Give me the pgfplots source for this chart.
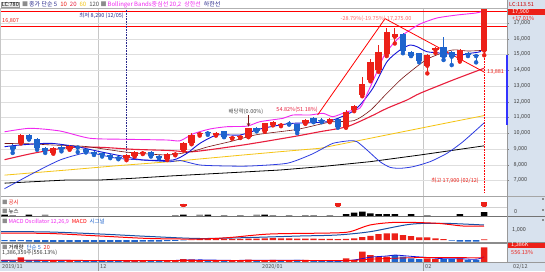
\documentclass[border=0pt]{standalone}
\usepackage{pgfplots}
\pgfplotsset{compat=1.18}
\usepackage{pgfplotstable}
\usepackage{fontspec}
\setmainfont{Noto Sans CJK KR}
\definecolor{cred}{RGB}{236,32,24}
\definecolor{cblue}{RGB}{30,100,205}
\definecolor{mag}{RGB}{240,40,240}
\definecolor{ma5}{RGB}{20,20,215}
\definecolor{ma10}{RGB}{120,20,20}
\definecolor{ma20}{RGB}{232,30,60}
\definecolor{ma60}{RGB}{245,196,20}
\definecolor{lowb}{RGB}{45,60,225}
\definecolor{panel}{RGB}{216,226,238}
\definecolor{navy}{RGB}{40,40,140}
\newcommand\f{\fontsize{5.5}{6}\selectfont}
\newcommand\ft{\fontsize{6}{7}\selectfont}

% up candles: x, low, wick height, body bottom, body height
\pgfplotstableread{
x l wh lo bh
1 9350 600 9400 490
5 8700 400 8770 270
7 8950 310 9020 190
14 8290 390 8410 210
15 8520 380 8560 270
16 8680 220 8720 110
19 8300 420 8350 330
20 8600 180 8650 70
21 8900 550 8940 460
22 9300 700 9360 530
23 9850 250 9940 60
25 9850 230 9890 140
27 9650 150 9690 60
28 9700 120 9740 60
29 9750 600 9780 530
31 10100 550 10140 490
32 10500 280 10540 190
33 10450 170 10500 80
36 10600 280 10630 210
39 10700 250 10730 150
41 10350 1100 10380 990
42 11400 400 11480 270
43 12350 1240 12430 700
44 13300 1400 13380 1160
45 13900 1700 14020 1160
46 14900 1760 15010 1440
47 15700 960 16130 150
51 13800 1200 14290 680
52 15100 400 15290 140
55 14550 800 14650 640
58 14950 2950 15250 2650
}\uptab
% down candles
\pgfplotstableread{
x l wh lo bh
0 8750 570 8980 230
2 9600 350 9630 260
3 8950 750 9040 590
4 8750 400 8890 150
6 8850 400 8980 170
8 8800 410 9090 60
9 8780 280 8830 170
10 8620 280 8680 150
11 8520 280 8620 100
12 8420 280 8510 110
13 8350 230 8410 100
17 8520 360 8560 270
18 8400 220 8450 110
24 9900 240 9990 60
26 9750 410 9780 360
30 10120 300 10160 190
34 10550 230 10580 90
35 10000 600 10160 410
37 10700 300 10730 220
38 10700 250 10760 80
40 10350 600 10420 460
48 15080 1270 15250 1050
49 14900 350 14930 250
50 14500 600 14590 480
53 14650 1480 14860 640
54 14330 920 14860 320
56 14900 250 14970 100
57 14500 550 14900 70
}\dntab

\pgfplotsset{mybase/.style={scale only axis, anchor=south west, width=507pt,
  xmin=-1.56, xmax=60.8, axis line style={draw=none},
  xtick={10.5,50.5}, xticklabels={}, major x tick style={draw=none},
  xmajorgrids, x grid style={black!22}, ytick=\empty, clip=true}}

\begin{document}
\begin{tikzpicture}
\begin{scope}[x=1pt,y=1pt]
\fill[white] (0,0) rectangle (545,271);
\fill[panel] (507,0) rectangle (545,271);
\fill[panel] (0,0) rectangle (545,9);
\end{scope}

% ---------- main price panel ----------
\begin{axis}[mybase, at={(0pt,75pt)}, height=188pt, ymin=6014.5, ymax=17952.5,
  ytick={7000,8000,9000,10000,11000,12000,13000,14000,15000,16000,17000},
  ytick pos=right, yticklabel pos=right,
  ymajorgrids, y grid style={black!13}, scaled y ticks=false,
  tick align=outside, major tick length=2pt, major y tick style={draw=black!50},
  yticklabel style={font=\f, text=black!75, xshift=1pt},
  /pgf/number format/assume math mode=true]
\addplot[red, line width=0.8pt] coordinates {(-1.56,17718) (60.8,17718)};
\addplot[red, line width=0.8pt] coordinates {(-1.56,16807) (60.8,16807)};
\addplot[navy, densely dotted, line width=0.6pt] coordinates {(14,17950) (14,8290)};
\addplot[red, densely dotted, line width=0.6pt] coordinates {(58,15000) (58,6205)};
% MA120
\addplot[black, line width=0.8pt] coordinates {(-1,6830) (6.68,7031) (10.74,7031) (14.80,7139) (19.35,7285) (32.88,7665) (37.80,7875) (43.95,8193) (50.10,8618) (57.97,9200)};
% MA60
\addplot[ma60, line width=0.8pt] coordinates {(-1,7340) (6.68,7665) (12.83,7938) (19.35,8193) (28.33,8618) (32.88,8828) (37.80,9044) (41.86,9462) (48.01,10098) (54.16,10733) (57.97,11120)};
% lower band
\addplot[lowb, line width=0.8pt, smooth, tension=0.4] coordinates {(-1,6480) (2.50,7456) (5.82,8301) (8.65,8726) (9.88,8726) (12.83,8409) (16.03,8301) (19.35,8193) (20.58,8269) (23.04,7983) (26.36,7919) (29.19,7919) (33.74,8091) (36.57,8618) (37.80,8936) (39.40,9361) (41.49,9526) (42.35,9462) (43.58,8936) (45.18,8193) (46.41,7837) (47.64,7773) (49.24,7875) (51.33,8193) (53.42,8726) (55.38,9462) (57.97,10650)};
% MA20 (center)
\addplot[ma20, line width=1.1pt, smooth, tension=0.4] coordinates {(-1,8320) (2.50,8726) (6.68,9082) (10.74,9107) (14.80,8980) (19.35,8904) (22.18,8828) (28.33,9253) (34.48,9780) (37.80,10098) (41.12,10415) (43.95,11050) (46.04,11584) (48.50,12111) (50.10,12536) (54.16,13381) (57.97,14124)};
% MA10
\addplot[ma10, line width=0.6pt, smooth, tension=0.4] coordinates {(-1,9350) (2,9330) (5,9250) (9,9158) (14,8799) (19,8621) (22,8839) (24,9135) (27,9500) (30,9907) (35,10244) (39,10705) (42,10807) (44,11458) (46,12521) (48,13525) (51,14707) (54,15280) (56,15220) (58,15270)};
% MA5
\addplot[ma5, line width=0.9pt, smooth, tension=0.4] coordinates {(-1,9145) (0.90,9253) (4.59,9361) (7.91,9145) (10.74,8828) (14.06,8490) (16.03,8301) (19.72,8301) (21.44,8726) (23.04,9361) (25.13,9888) (27.96,9888) (30.42,10269) (32.88,10523) (34.48,10631) (38.66,10733) (41.49,11285) (42.72,11793) (44.32,12873) (46.04,14543) (47.64,15286) (48.87,15603) (49.73,15495) (50.96,15178) (52.93,15076) (55.01,14968) (56.25,15076) (57.48,15178) (57.97,15495)};
% upper band
\addplot[mag, line width=0.9pt, smooth, tension=0.4] coordinates {(-1,10090) (2.13,10314) (5.82,10142) (9.51,9679) (14.06,9615) (18.98,9570) (20.58,9520) (22.18,9960) (24.27,10270) (26.36,10415) (28.82,10450) (30.42,10733) (33.25,10949) (34.48,11158) (36.57,11158) (38.17,11266) (39.40,11050) (41.12,11368) (42.72,11603) (43.70,12618) (44.69,13762) (45.67,14905) (46.66,15603) (47.64,16111) (48.87,16556) (50.10,16937) (52.19,17318) (54.65,17508) (56.99,17635) (57.97,17762)};
% trend line
\addplot[red, line width=0.8pt] coordinates {(37.5,11158) (45.8,17275) (58,13881)};
% candles
\addplot[cred, only marks, mark=none, error bars/.cd, y dir=plus, y explicit, error mark=none, error bar style={line width=0.7pt, cred}] table[x=x, y=l, y error=wh] {\uptab};
\addplot[cred, only marks, mark=none, error bars/.cd, y dir=plus, y explicit, error mark=none, error bar style={line width=6.3pt, cred}] table[x=x, y=lo, y error=bh] {\uptab};
\addplot[cblue, only marks, mark=none, error bars/.cd, y dir=plus, y explicit, error mark=none, error bar style={line width=0.7pt, cblue}] table[x=x, y=l, y error=wh] {\dntab};
\addplot[cblue, only marks, mark=none, error bars/.cd, y dir=plus, y explicit, error mark=none, error bar style={line width=6.3pt, cblue}] table[x=x, y=lo, y error=bh] {\dntab};
\draw[->, >=stealth, ma10, line width=0.6pt] (axis cs:29,11150) -- (axis cs:29,10420);
\end{axis}

% ---------- disclosure panel ----------
\begin{axis}[mybase, at={(0pt,64pt)}, height=11pt, ymin=0, ymax=11]
\addplot[cred, only marks, mark=none, error bars/.cd, y dir=plus, y explicit, error mark=none, error bar style={line width=6.5pt, cred}] table[x=x, y=lo, y error=bh] {
x lo bh
21 1.0 2.0
40 1.3 2.4
58 1.3 3.4
};
\end{axis}

% ---------- news panel ----------
\begin{axis}[mybase, at={(0pt,55pt)}, height=9pt, ymin=0, ymax=9]
\addplot[ybar, bar width=6.5pt, bar shift=0pt, fill=black!45, draw=none] coordinates {(0,1) (4,1.5) (20,1) (23,1.5) (26,1) (28,1) (30,1.5) (32,1) (34,1) (36,1) (37,1) (39,1) (51,1)};
\addplot[ybar, bar width=6.5pt, bar shift=0pt, fill=black, draw=none] coordinates {(-1,1.5) (2,1.5) (21,1.5) (24,1.5) (31,1.5) (41,2) (42,3.3) (43,4.3) (44,2.7) (45,2) (46,2) (47,2) (49,2) (55,2) (58,4)};
\end{axis}

% ---------- MACD panel ----------
\begin{axis}[mybase, at={(0pt,28pt)}, height=27pt, ymin=-300, ymax=2400]
\addplot[ybar, bar width=6.3pt, bar shift=0pt, fill=cred, draw=none] coordinates {(22,40) (23,80) (24,100) (25,120) (26,120) (27,110) (28,110) (29,140) (30,140) (31,170) (32,180) (33,170) (34,160) (35,130) (36,140) (37,130) (38,120) (39,120) (40,90) (41,120) (42,170) (43,280) (44,420) (45,600) (46,670) (47,670) (48,500) (49,400) (50,270) (51,270) (52,170) (53,100) (58,60)};
\addplot[ybar, bar width=6.3pt, bar shift=0pt, fill=cblue, draw=none] coordinates {(-1,-120) (0,-130) (1,-120) (2,-150) (3,-180) (4,-200) (5,-200) (6,-200) (7,-190) (8,-200) (9,-200) (10,-200) (11,-210) (12,-220) (13,-220) (14,-200) (15,-190) (16,-170) (17,-160) (18,-150) (19,-120) (20,-90) (21,-40) (54,-50) (55,-150) (56,-170) (57,-170)};
\addplot[cblue!80!black, line width=1pt, smooth] coordinates {(-1.56,850) (4.59,800) (10.74,600) (16.89,350) (23.04,150) (29.19,250) (35.34,400) (39.89,500) (43.95,830) (48.87,1570) (52.93,1670) (57.97,1500)};
\addplot[red, line width=1pt, smooth] coordinates {(-1.56,700) (4.59,650) (10.74,400) (16.89,150) (23.04,100) (26.73,250) (31.65,600) (39.03,700) (41.49,830) (43.95,1500) (47.27,1770) (52.19,1670) (55.38,1400) (57.97,1400)};
\end{axis}

% ---------- volume panel ----------
\begin{axis}[mybase, at={(0pt,9pt)}, height=19pt, ymin=0, ymax=1792]
\addplot[ybar, bar width=6.5pt, bar shift=0pt, fill=cred, draw=none] coordinates {(1,440) (5,140) (7,130) (14,160) (15,150) (16,110) (19,130) (20,140) (21,260) (22,250) (23,150) (25,130) (27,100) (28,110) (29,230) (31,180) (32,189) (34,123) (36,189) (41,349) (42,189) (43,971) (44,660) (45,500) (46,500) (51,349) (52,283) (55,349) (58,1386)};
\addplot[ybar, bar width=6.5pt, bar shift=0pt, fill=cblue, draw=none] coordinates {(-1,140) (0,150) (2,180) (3,200) (4,150) (6,120) (8,110) (9,120) (10,110) (11,100) (12,110) (13,120) (17,120) (18,100) (24,120) (26,150) (30,150) (33,94) (35,189) (37,94) (38,94) (39,94) (40,94) (47,660) (48,500) (49,349) (50,283) (53,283) (54,283) (56,189) (57,189)};
\addplot[ma5, line width=0.8pt, smooth] coordinates {(-1.56,150) (5,170) (10,120) (15,130) (20,150) (23,200) (27,150) (31,170) (36,150) (40,100) (42,190) (44,453) (46,564) (47,658) (49,534) (51,428) (53,309) (55,309) (57,259) (57.97,479)};
\addplot[red, line width=0.8pt, smooth] coordinates {(-1.56,160) (10,150) (20,140) (30,150) (40,140) (42,160) (45,300) (50,420) (55,420) (57,390) (57.97,420)};
\end{axis}

\begin{scope}[x=1pt,y=1pt]
% ---------- separators ----------
\draw[black!30] (0,263) -- (507,263);
\draw[black!35] (0,75) -- (545,75);
\draw[black!18] (0,64) -- (507,64);
\draw[black!55, line width=0.8pt] (0,55) -- (545,55);
\draw[black!45, line width=1.2pt] (0,28) -- (545,28);
\draw[black!40] (0,9) -- (545,9);
\draw[black!40] (507,9) -- (507,271);
\draw[black!22] (0.3,9) -- (0.3,263);
\foreach \y in {73,62,52,26} \fill[black!45] (542,\y-1.5) rectangle (544,\y+0.5);
\draw[blue!80, line width=1.1pt] (507,216) -- (507,146);

% ---------- texts ----------
\node[anchor=west, inner sep=0.6pt, draw=black!40, fill=black!8, font=\f] at (1,266.5) {LC:780};
\node[anchor=west, inner sep=0, font=\ft] at (22,266.5) {{\color{black!45}■}\,{\color{navy}종가 단순 5}\; {\color{cred}10}\; {\color{ma20}20}\; {\color{ma60}60}\; {\color{black!70}120} {\color{black!45}■}\,{\color{mag}Bollinger Bands중심선 20,2}\; {\color{mag}상한선}\; {\color{navy}하한선}};
\node[anchor=west, inner sep=0, font=\f, text=red!80!black] at (509,266.5) {LC:113.51};
\fill[cred] (508,256) rectangle (545,262);
\node[anchor=west, inner sep=0, font=\f, text=white] at (512,259) {17,900};
\node[anchor=west, inner sep=0, font=\f, text=cred] at (512,253) {+17.01\%};
\node[anchor=west, inner sep=0, font=\f, text=cred] at (2,250) {16,807};
\node[anchor=east, inner sep=0, font=\f, text=navy] at (124,255) {최저 8,290 (12/05)};
\node[anchor=center, inner sep=0, font=\f, text=red!60] at (376,252) {-28.79\%(-19.75\%) 17,275.00};
\node[anchor=east, inner sep=0, font=\f, text=ma20] at (318,161) {54.82\%(51.18\%)};
\node[anchor=center, inner sep=0, font=\f, text=black!70] at (246,159) {배당락(0.00\%)};
\node[anchor=west, inner sep=0, font=\f, text=cred] at (487,199) {13,881};
\node[anchor=east, inner sep=0, font=\f, text=cred] at (479,90) {최고 17,900 (02/12)};
\node[anchor=west, inner sep=0, font=\f] at (2,69) {{\color{black!45}■}\,{\color{cred}공시}};
\node[anchor=west, inner sep=0, font=\f] at (2,59.5) {{\color{black!45}■}\,뉴스};
\node[anchor=west, inner sep=0, font=\f] at (2,49) {{\color{black!45}■}\,{\color{mag}MACD Oscillator 12,26,9}\; {\color{red}MACD}\; {\color{cblue}시그널}};
\node[anchor=west, inner sep=0, font=\f] at (2,24) {{\color{black!45}■}\,거래량\; {\color{cblue}단순 5}\; {\color{cred}20}};
\node[anchor=west, inner sep=0, font=\f, text=black!80] at (2,18) {1,386,359주(556.13\%)};
\node[anchor=west, inner sep=0, font=\f, text=black!75] at (514,59) {0};
\node[anchor=west, inner sep=0, font=\f, text=black!75] at (512,41) {1,000};
\fill[cred] (508,23) rectangle (545,28);
\node[anchor=west, inner sep=0, font=\f, text=white] at (511,25.5) {1,386K};
\node[anchor=west, inner sep=0, font=\f, text=cred] at (511,19) {556.13\%};
\node[anchor=west, inner sep=0, font=\f, text=black!70] at (2,4.5) {2019/11};
\node[anchor=west, inner sep=0, font=\f, text=black!70] at (100,4.5) {12};
\node[anchor=west, inner sep=0, font=\f, text=black!70] at (262,4.5) {2020/01};
\node[anchor=west, inner sep=0, font=\f, text=black!70] at (425,4.5) {02};
\node[anchor=west, inner sep=0, font=\f, text=black!70] at (513,4.5) {02/12};
\draw[black!40] (98,0) -- (98,9);
\draw[black!40] (423,0) -- (423,9);
\end{scope}
\pgfresetboundingbox
\path[use as bounding box] (0pt,0pt) rectangle (545pt,271pt);
\end{tikzpicture}
\end{document}
